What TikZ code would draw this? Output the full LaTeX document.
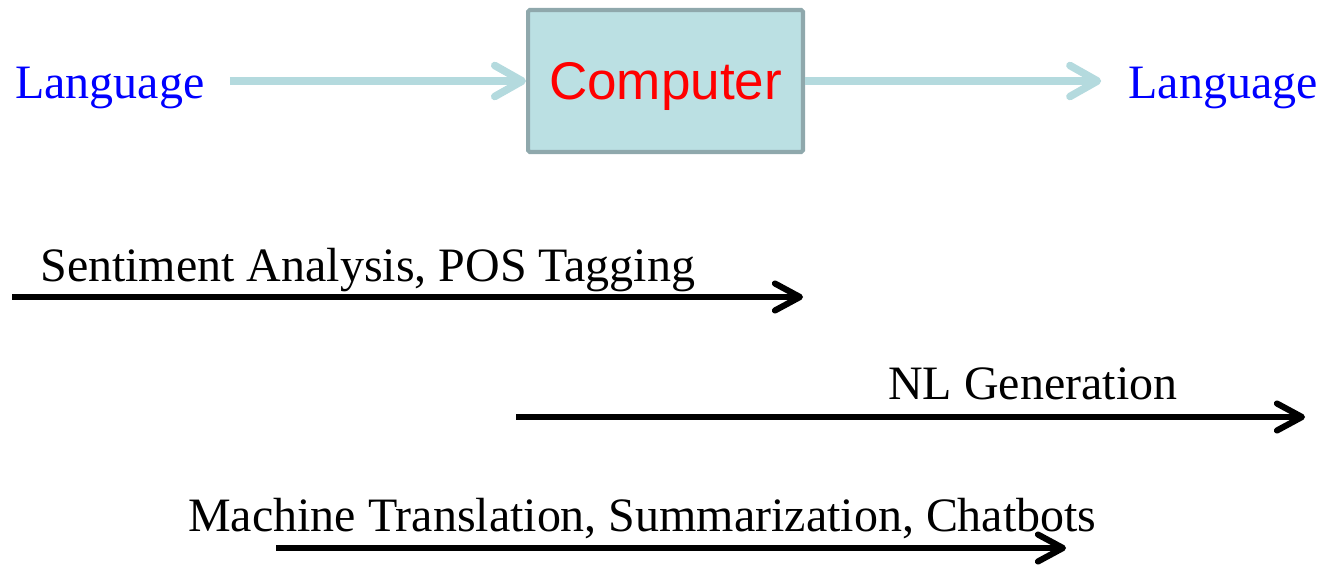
\documentclass[tikz,border=0pt]{standalone}
\usepackage{fontspec}
\setmainfont{Liberation Serif}
\setsansfont{Liberation Sans}
\usetikzlibrary{arrows.meta}
\definecolor{boxfill}{HTML}{BBE0E3}
\definecolor{boxline}{HTML}{8FA8AC}
\definecolor{flowline}{HTML}{B4DADE}
\begin{document}
\begin{tikzpicture}[x=0.02cm,y=-0.02cm,
		word/.style={inner sep=0pt,font=\fontsize{27.3}{30}\selectfont},
		lang/.style={word,text=blue},
		flow/.style={flowline,line width=4.3pt,-{Straight Barb[length=0.55cm,width=0.62cm,round]}},
		task/.style={black,line width=3.5pt,-{Straight Barb[length=0.5cm,width=0.54cm,round]}}]
		\useasboundingbox (0,0) rectangle (1325,565);
		%computer box
		\node[draw=boxline,fill=boxfill,line width=2.3pt,rounded corners=1pt,
			minimum width=5.5cm,minimum height=2.84cm,text depth=0pt,
			font=\sffamily\fontsize{30.2}{32}\selectfont,text=red] (comp) at (665.5,81) {Computer};
		%language in and out
		\node[lang,anchor=base west] (langin) at (15,98) {Language};
		\node[lang,anchor=base east] (langout) at (1318,98) {Language};
		\draw[flow,shorten <=0.5cm] (langin.east |- comp.west) -- (comp.west);
		\draw[flow,shorten >=0.54cm] (comp.east) -- (langout.west |- comp.east);
		% tasks
		\coordinate (sa-s) at (12,297);
		\coordinate (sa-e) at (803,297);
		\draw[task] (sa-s) -- (sa-e);
		\node[word,anchor=base west] (sa) at (40,281) {Sentiment Analysis, POS Tagging};
		\coordinate (nlg-s) at (516,417);
		\coordinate (nlg-e) at (1305,417);
		\draw[task] (nlg-s) -- (nlg-e);
		\node[word,anchor=base west] (nlg) at (888,399) {NL Generation};
		\coordinate (mt-s) at (276,548);
		\coordinate (mt-e) at (1066,548);
		\draw[task] (mt-s) -- (mt-e);
		\node[word,anchor=base west] (mt) at (188,531) {Machine Translation, Summarization, Chatbots};
	\end{tikzpicture}
\end{document}
